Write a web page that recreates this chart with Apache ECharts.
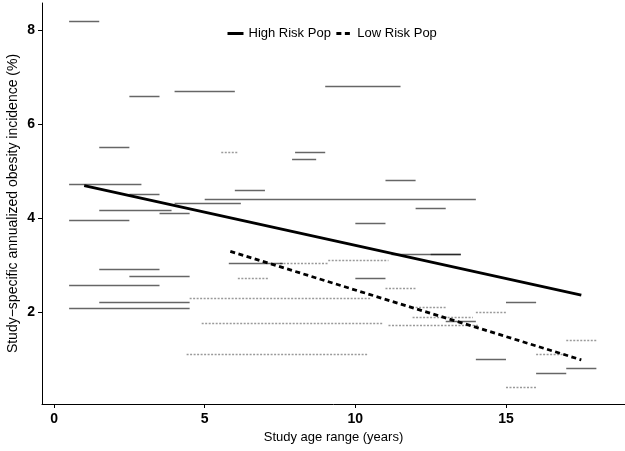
<!DOCTYPE html>
<html><head><meta charset="utf-8">
<script src="https://cdn.jsdelivr.net/npm/echarts@6/dist/echarts.min.js"></script>
<style>html,body{margin:0;padding:0;background:#fff}#c{width:625px;height:451px}</style>
</head><body><div id="c"></div>
<script>
// Tick labels
const xTicks = [0, 5, 10, 15];
const yTicks = [2, 4, 6, 8];

// High risk population studies: age range start, end, annualized incidence (%)
const highStart = [0.5, 2.5, 4.0, 9.0, 1.5, 8.0, 7.9, 0.5, 6.0, 11.0, 2.5, 5.0, 4.0, 12.0, 1.5, 3.5, 0.5, 10.0, 11.2, 12.5, 5.8, 1.5, 2.5, 10.0, 0.5, 1.5, 0.5, 15.0, 13.0, 14.0, 17.0, 16.0];
const highEnd   = [1.5, 3.5, 6.0, 11.5, 2.5, 9.0, 8.7, 2.9, 7.0, 12.0, 3.5, 14.0, 6.2, 13.0, 3.9, 4.5, 2.5, 11.0, 13.5, 13.5, 7.6, 3.5, 4.5, 11.0, 3.5, 4.5, 4.5, 16.0, 14.0, 15.0, 18.0, 17.0];
const highRate  = [8.2, 6.6, 6.7, 6.8, 5.5, 5.4, 5.25, 4.73, 4.6, 4.8, 4.5, 4.4, 4.32, 4.2, 4.16, 4.1, 3.96, 3.9, 3.22, 3.22, 3.03, 2.91, 2.76, 2.71, 2.57, 2.21, 2.08, 2.2, 1.81, 1.0, 0.8, 0.7];

// Low risk population studies
const lowStart = [5.55, 7.5, 9.1, 6.1, 11.0, 4.5, 12.0, 14.0, 11.9, 4.9, 11.1, 17.0, 16.0, 4.4, 15.0];
const lowEnd   = [6.1, 9.1, 11.1, 7.1, 12.0, 10.5, 13.0, 15.0, 13.9, 10.9, 14.1, 18.0, 17.0, 10.4, 16.0];
const lowRate  = [5.4, 3.03, 3.1, 2.71, 2.5, 2.29, 2.1, 2.0, 1.88, 1.77, 1.71, 1.4, 1.1, 1.09, 0.4];

// Fitted trend lines
const highFitX = [1.0, 17.5];
const highFitY = [4.69, 2.36];
const lowFitX = [5.85, 17.5];
const lowFitY = [3.29, 0.98];

const FONT = "'Liberation Sans', Arial, sans-serif";

function segs(s, e, v) {
  return s.map((x, i) => ({ coords: [[x, v[i]], [e[i], v[i]]] }));
}

const chart = echarts.init(document.getElementById('c'), null, { renderer: 'canvas' });
chart.setOption({
  animation: false,
  backgroundColor: '#fff',
  grid: { left: 42, right: 0, top: 3, bottom: 47, containLabel: false, outerBoundsMode: 'none' },
  legend: {
    left: 226, top: 27, padding: 0,
    itemWidth: 16, itemHeight: 14, itemGap: 4,
    data: ['High Risk Pop', 'Low Risk Pop'],
    itemStyle: { opacity: 0, color: 'rgba(0,0,0,0)', borderWidth: 0 },
    lineStyle: { width: 3 },
    textStyle: { fontFamily: FONT, fontSize: 13, color: '#000' }
  },
  xAxis: {
    type: 'value', min: -0.4, max: 18.95,
    name: 'Study age range (years)', nameLocation: 'middle', nameGap: 23,
    nameTextStyle: { fontFamily: FONT, fontSize: 13, color: '#000' },
    axisLine: { show: true, onZero: false, lineStyle: { color: '#000', width: 1 } },
    axisTick: { show: true, length: 4, customValues: xTicks, lineStyle: { color: '#000' } },
    axisLabel: { customValues: xTicks, margin: 8, fontFamily: FONT, fontSize: 14, fontWeight: 'bold', color: '#000' },
    splitLine: { show: false }
  },
  yAxis: {
    type: 'value', min: 0.04, max: 8.58,
    name: 'Study\u2212specific annualized obesity incidence (%)', nameLocation: 'middle', nameGap: 22,
    nameMoveOverlap: false,
    nameTextStyle: { fontFamily: FONT, fontSize: 14, color: '#000' },
    axisLine: { show: true, onZero: false, lineStyle: { color: '#000', width: 1 } },
    axisTick: { show: true, length: 4, customValues: yTicks, lineStyle: { color: '#000' } },
    axisLabel: { customValues: yTicks, margin: 7, fontFamily: FONT, fontSize: 14, fontWeight: 'bold', color: '#000' },
    splitLine: { show: false }
  },
  series: [
    {
      type: 'lines', coordinateSystem: 'cartesian2d', silent: true,
      data: segs(lowStart, lowEnd, lowRate),
      lineStyle: { color: '#9a9a9a', width: 1.3, type: [2, 1.5], opacity: 1 }
    },
    {
      type: 'lines', coordinateSystem: 'cartesian2d', silent: true,
      data: segs(highStart, highEnd, highRate),
      lineStyle: { color: 'rgba(0,0,0,0.6)', width: 1.4, type: 'solid', opacity: 1 }
    },
    {
      name: 'High Risk Pop', type: 'line', symbol: 'none', silent: true,
      data: highFitX.map((x, i) => [x, highFitY[i]]),
      lineStyle: { color: '#000', width: 2.8, type: 'solid' },
      itemStyle: { color: '#000' }
    },
    {
      name: 'Low Risk Pop', type: 'line', symbol: 'none', silent: true,
      data: lowFitX.map((x, i) => [x, lowFitY[i]]),
      lineStyle: { color: '#000', width: 2.8, type: [5, 3.5] },
      itemStyle: { color: '#000' }
    }
  ]
});
</script>
</body></html>
